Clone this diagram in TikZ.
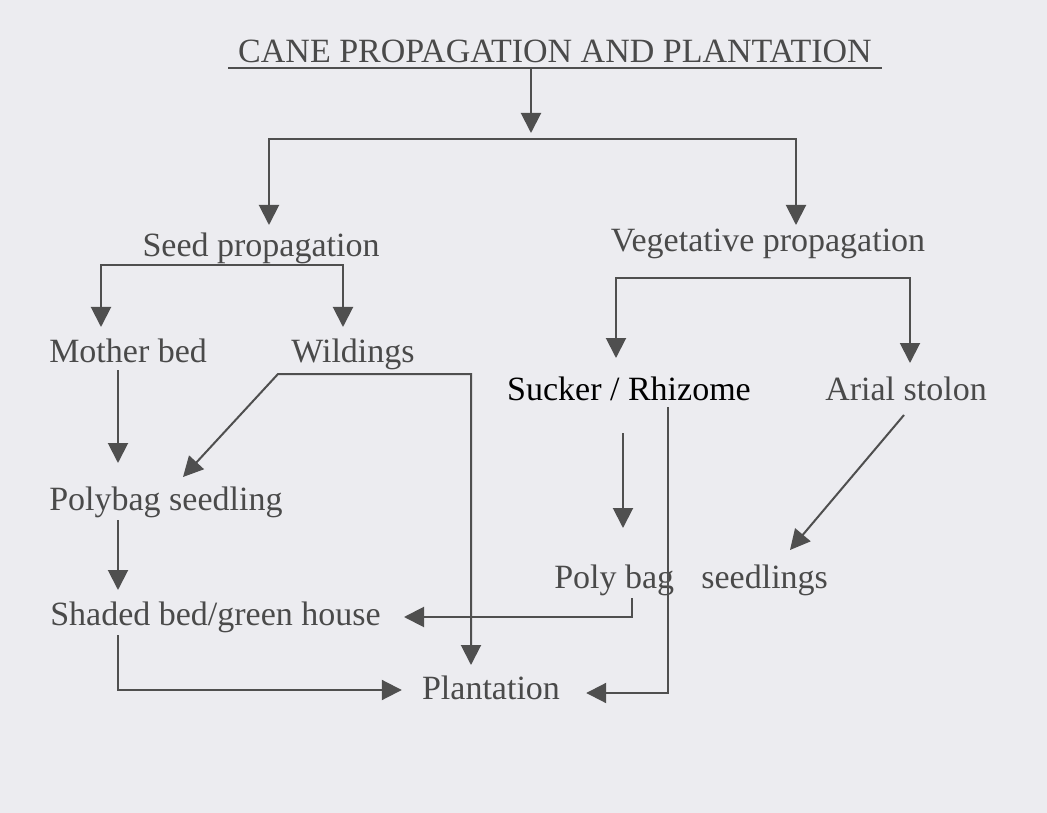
\documentclass[tikz,border=0pt]{standalone}
\usepackage{fontspec}
\setmainfont{Liberation Serif}
\usetikzlibrary{arrows.meta}
\definecolor{paper}{HTML}{ECECF0}
\definecolor{ink}{HTML}{4A4A4A}
\definecolor{rule}{HTML}{4F4F4F}
\begin{document}
\begin{tikzpicture}[x=0.75pt, y=-0.75pt,
    lbl/.style={inner sep=0pt, text=ink, font=\fontsize{25.5}{30}\selectfont},
    link/.style={draw=rule, line width=1.5pt},
    arr/.style={link, -{Triangle[width=15pt, length=15pt]}},
    arrs/.style={link, {Triangle[width=15pt, length=15pt]}-{Triangle[width=15pt, length=15pt]}}]
    % Page
    \fill[paper] (0,0) rectangle (1047,813);
    \useasboundingbox (0,0) rectangle (1047,813);
    % Labels
    \node[lbl, anchor=base] (title) at (555,63) {CANE PROPAGATION AND PLANTATION};
    \node[lbl, anchor=base] (seed) at (261,257) {Seed propagation};
    \node[lbl, anchor=base] (veg) at (768,252) {Vegetative propagation};
    \node[lbl, anchor=base west] (mother) at (49,362) {Mother bed};
    \node[lbl, anchor=base] (wild) at (353,362) {Wildings};
    \node[lbl, anchor=base, text=black] (sucker) at (629,400) {Sucker / Rhizome};
    \node[lbl, anchor=base] (arial) at (906,400) {Arial stolon};
    \node[lbl, anchor=base west] (polyseed) at (49,510) {Polybag seedling};
    \node[lbl, anchor=base west] (pbs) at (554,588) {Poly bag\hskip0.8em seedlings};
    \node[lbl, anchor=base west] (shaded) at (50,625) {Shaded bed/green house};
    \node[lbl, anchor=base] (plant) at (491,699) {Plantation};
    % Title rule and first split
    \draw[link] ([shift={(-327,5)}]title.base) -- ([shift={(327,5)}]title.base);
    \coordinate (fork) at (531,139);
    \draw[arr] ([shift={(-24,5)}]title.base) -- ([shift={(0,-6)}]fork);
    \draw[arrs] ([shift={(8,-32)}]seed.base) |- (fork) -| ([shift={(28,-27)}]veg.base);
    % Seed branch
    \draw[arrs] ([shift={(52,-35)}]mother.base west) |- ([shift={(0,8)}]seed.base)
        -| ([shift={(-10,-35)}]wild.base);
    \draw[arr] ([shift={(69,8)}]mother.base west) -- ([shift={(69,-47)}]polyseed.base west);
    \draw[arrs] ([shift={(134,-33)}]polyseed.base west) -- ([shift={(-75,12)}]wild.base)
        -- ([shift={(118,12)}]wild.base) -- ([shift={(-20,-34)}]plant.base);
    \draw[arr] ([shift={(69,10)}]polyseed.base west) -- ([shift={(68,-35)}]shaded.base west);
    \draw[arr] ([shift={(68,10)}]shaded.base west) |- ([shift={(-20,-9)}]plant.base west);
    % Vegetative branch
    \draw[arrs] ([shift={(-13,-42)}]sucker.base) |- ([shift={(0,26)}]veg.base)
        -| ([shift={(4,-37)}]arial.base);
    \draw[arr] ([shift={(-6,33)}]sucker.base) -- ([shift={(69,-60)}]pbs.base west);
    \draw[arr] ([shift={(39,7)}]sucker.base) |- ([shift={(26,-6)}]plant.base east);
    \draw[arr] ([shift={(-2,15)}]arial.base) -- ([shift={(236,-38)}]pbs.base west);
    \draw[arr] ([shift={(78,10)}]pbs.base west) |- ([shift={(354,-8)}]shaded.base west);
\end{tikzpicture}
\end{document}
